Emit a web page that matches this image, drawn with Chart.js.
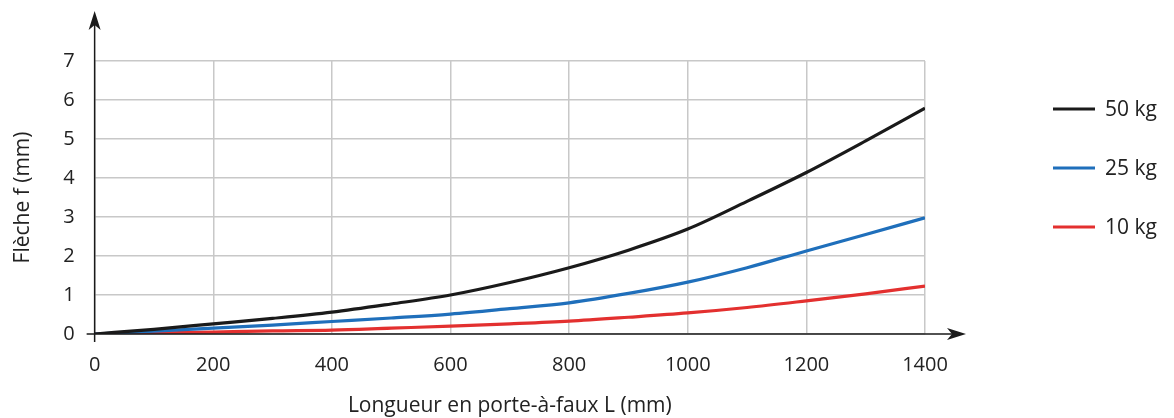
<!DOCTYPE html>
<html>
<head>
<meta charset="utf-8">
<script src="https://cdn.jsdelivr.net/npm/chart.js@4"></script>
<style>
  html, body { margin: 0; padding: 0; background: #fff; }
  #wrap { width: 1174px; height: 418px; }
</style>
</head>
<body>
<div id="wrap"><canvas id="chart"></canvas></div>
<script>
// données
const longueurs = [0, 100, 200, 300, 400, 500, 600, 700, 800, 900, 1000, 1100, 1200, 1300, 1400];
const f50 = [0, 0.12, 0.26, 0.4, 0.56, 0.77, 1.0, 1.32, 1.7, 2.15, 2.69, 3.4, 4.14, 4.95, 5.79];
const f25 = [0, 0.07, 0.15, 0.23, 0.32, 0.41, 0.51, 0.65, 0.8, 1.04, 1.33, 1.7, 2.13, 2.55, 2.98];
const f10 = [0, 0.02, 0.05, 0.08, 0.1, 0.15, 0.2, 0.26, 0.33, 0.43, 0.54, 0.68, 0.85, 1.03, 1.23];
const yTicks = [0, 1, 2, 3, 4, 5, 6, 7];
const xTicks = [0, 200, 400, 600, 800, 1000, 1200, 1400];

const FONT = "'Open Sans', 'Noto Sans', sans-serif";
const pts = arr => arr.map((v, i) => ({ x: longueurs[i], y: v }));

// axes avec flèches + légende à droite
const axesPlugin = {
  id: "axes",
  afterDraw(chart) {
    const c = chart.ctx;
    const x = chart.scales.x, y = chart.scales.y;
    const x0 = x.getPixelForValue(0), y0 = y.getPixelForValue(0);
    c.save();
    c.strokeStyle = "#1a1a1a";
    c.fillStyle = "#1a1a1a";
    c.lineWidth = 1.5;
    c.beginPath();
    c.moveTo(x0, y0 + 8); c.lineTo(x0, 22);
    c.moveTo(x0 - 8, y0); c.lineTo(955, y0);
    c.stroke();
    // flèche verticale
    c.beginPath();
    c.moveTo(x0, 11); c.lineTo(x0 - 6, 30); c.lineTo(x0, 25); c.lineTo(x0 + 6, 30);
    c.closePath(); c.fill();
    // flèche horizontale
    c.beginPath();
    c.moveTo(966, y0); c.lineTo(947, y0 - 6); c.lineTo(952, y0); c.lineTo(947, y0 + 6);
    c.closePath(); c.fill();

    // légende
    c.font = "21px " + FONT;
    c.textBaseline = "middle";
    chart.data.datasets.forEach((ds, i) => {
      const ly = 109 + i * 59;
      c.strokeStyle = ds.borderColor;
      c.lineWidth = 3;
      c.beginPath(); c.moveTo(1053, ly); c.lineTo(1095, ly); c.stroke();
      c.fillStyle = "#222";
      c.fillText(ds.label, 1105, ly + 1);
    });
    c.restore();
  }
};

new Chart(document.getElementById("chart"), {
  type: "line",
  data: {
    datasets: [
      { label: "50 kg", data: pts(f50), borderColor: "#1a1a1a" },
      { label: "25 kg", data: pts(f25), borderColor: "#1f6fbb" },
      { label: "10 kg", data: pts(f10), borderColor: "#e3302f" }
    ]
  },
  options: {
    responsive: true,
    maintainAspectRatio: false,
    animation: false,
    layout: { padding: { top: 61, right: 249, left: 6, bottom: 1 } },
    elements: {
      line: { borderWidth: 3.2, cubicInterpolationMode: "monotone" },
      point: { radius: 0 }
    },
    plugins: { legend: { display: false }, tooltip: { enabled: false } },
    scales: {
      x: {
        type: "linear", min: 0, max: 1400,
        afterBuildTicks: s => { s.ticks = xTicks.map(v => ({ value: v })); },
        grid: { color: "#c8c8c8", lineWidth: 1.5, drawTicks: false },
        border: { display: false },
        ticks: { color: "#222", font: { family: FONT, size: 20 }, padding: 19, maxRotation: 0,
                 callback: v => String(v) },
        title: { display: true, text: "Longueur en porte-à-faux L (mm)", color: "#222",
                 font: { family: FONT, size: 21, lineHeight: 1.0 }, padding: { top: 0, bottom: 0 } }
      },
      y: {
        min: 0, max: 7,
        afterBuildTicks: s => { s.ticks = yTicks.map(v => ({ value: v })); },
        grid: { color: "#c8c8c8", lineWidth: 1.5, drawTicks: false },
        border: { display: false },
        ticks: { color: "#222", font: { family: FONT, size: 20 }, padding: 20,
                 callback: v => String(v) },
        title: { display: true, text: "Flèche f (mm)", color: "#222",
                 font: { family: FONT, size: 21 }, padding: { bottom: 8 } }
      }
    }
  },
  plugins: [axesPlugin]
});
</script>
</body>
</html>
